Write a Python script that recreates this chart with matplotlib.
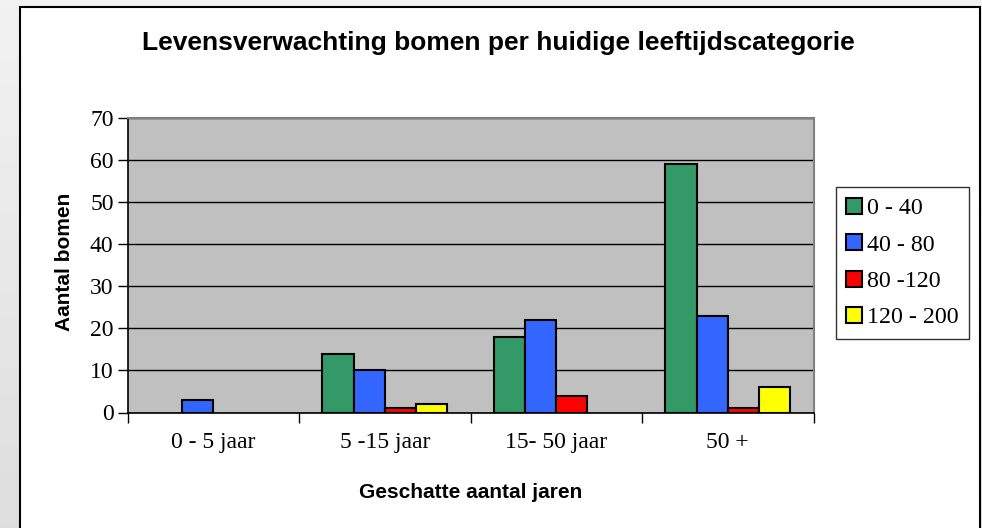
import numpy as np
import matplotlib
matplotlib.use("Agg")
import matplotlib.pyplot as plt
from matplotlib.patches import Rectangle, Patch

categories = ["0 - 5 jaar", "5 -15 jaar", "15- 50 jaar", "50 +"]
series_names = ["0 - 40", "40 - 80", "80 -120", "120 - 200"]
values_0_40 = [0, 14, 18, 59]
values_40_80 = [3, 10, 22, 23]
values_80_120 = [0, 1, 4, 1]
values_120_200 = [0, 2, 0, 6]
series_values = [values_0_40, values_40_80, values_80_120, values_120_200]
colors = ["#339966", "#3366FF", "#FF0000", "#FFFF00"]

W, H = 982, 528
fig = plt.figure(figsize=(W / 100, H / 100), dpi=100)

# page background gradient
bg = fig.add_axes([0, 0, 1, 1], zorder=-10)
grad = np.linspace(0.95, 0.87, 256).reshape(-1, 1)
bg.imshow(np.dstack([grad, grad, grad]), aspect="auto", extent=[0, 1, 0, 1])
bg.set_xlim(0, 1); bg.set_ylim(0, 1)
bg.axis("off")
# white chart panel
bg.add_patch(Rectangle((20 / W, -0.05), (980 - 20) / W, (528 - 7) / H + 0.05,
                       facecolor="white", edgecolor="black", lw=1.5))

def px(x0, y0, x1, y1):
    return [x0 / W, 1 - y1 / H, (x1 - x0) / W, (y1 - y0) / H]

ax = fig.add_axes(px(127.5, 117.5, 813.5, 412.5))
ax.set_facecolor("#C0C0C0")
n = len(series_values)
bw = 0.182
x = np.arange(len(categories))
for i, (vals, c, name) in enumerate(zip(series_values, colors, series_names)):
    lws = [1.5 if v > 0 else 0 for v in vals]
    ax.bar(x + (i - (n - 1) / 2) * bw, vals, width=bw, color=c,
           edgecolor="black", linewidth=lws, label=name, zorder=3)

ax.set_xlim(-0.5, len(categories) - 0.5)
ax.set_ylim(0, 70)
ax.set_yticks(np.arange(0, 71, 10))
ax.yaxis.grid(True, color="black", lw=1, zorder=1)
ax.set_axisbelow(True)
ax.set_xticks(np.arange(-0.5, len(categories), 1.0))
ax.set_xticklabels([])
ax.set_xticks(x, minor=True)
ax.set_xticklabels(categories, minor=True, fontfamily="Liberation Serif", fontsize=17)
ax.tick_params(axis="x", which="major", length=7, width=1, direction="out", color="black")
ax.tick_params(axis="x", which="minor", length=0, pad=14)
ax.tick_params(axis="y", length=7, width=1, direction="out", pad=3)
for lab in ax.get_yticklabels():
    lab.set_fontfamily("Liberation Serif"); lab.set_fontsize(17)
for s in ["top", "right"]:
    ax.spines[s].set_color("#808080"); ax.spines[s].set_linewidth(1.5)
for s in ["left", "bottom"]:
    ax.spines[s].set_color("black"); ax.spines[s].set_linewidth(1.2)

fig.text(498 / W, 1 - 43 / H, "Levensverwachting bomen per huidige leeftijdscategorie",
         ha="center", va="center", fontfamily="Liberation Sans", fontweight="bold", fontsize=19)
fig.text(65 / W, 1 - 262 / H, "Aantal bomen", rotation=90, ha="center", va="center",
         fontfamily="Liberation Sans", fontweight="bold", fontsize=15)
fig.text(471 / W, 1 - 493 / H, "Geschatte aantal jaren", ha="center", va="center",
         fontfamily="Liberation Sans", fontweight="bold", fontsize=15)

handles = [Patch(facecolor=c, edgecolor="black", linewidth=1.5) for c in colors]
leg = fig.legend(handles, series_names, loc="upper left",
                 bbox_to_anchor=(835.5 / W, 1 - 187 / H),
                 prop={"family": "Liberation Serif", "size": 17.3},
                 frameon=True, fancybox=False, edgecolor="black",
                 handlelength=0.65, handleheight=0.65, handletextpad=0.2,
                 labelspacing=0.62, borderpad=0.45, borderaxespad=0)
leg.get_frame().set_linewidth(1)

fig.savefig("out.png", dpi=100)
